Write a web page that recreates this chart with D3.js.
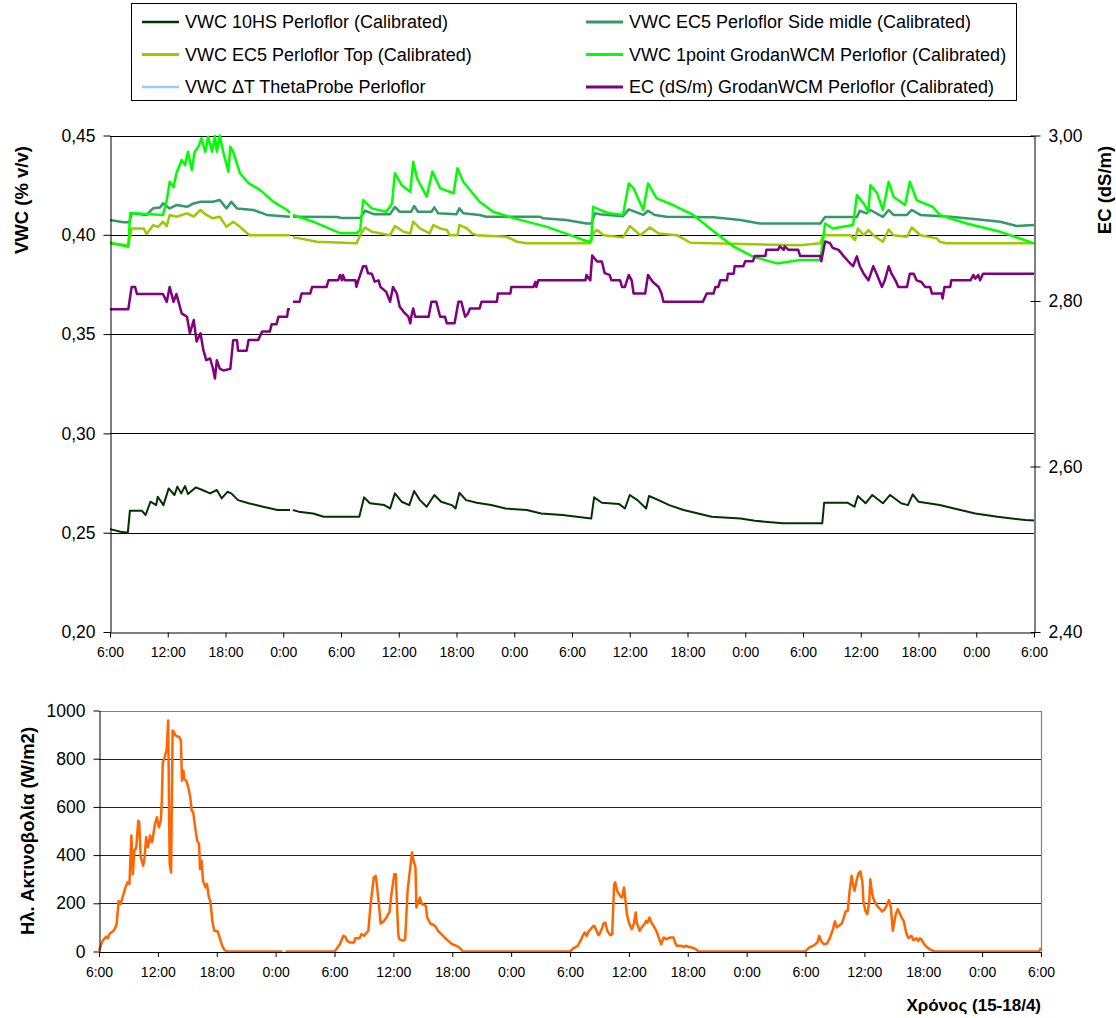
<!DOCTYPE html>
<html>
<head>
<meta charset="utf-8">
<script src="https://d3js.org/d3.v7.min.js"></script>
<style>
  body { margin: 0; background: #fff; }
  svg text { font-family: Arial, "Liberation Sans", sans-serif; fill: #000; }
</style>
</head>
<body>
<script>
"use strict";

// time is hours after 6:00 on 15/4 (0 .. 96), null marks the logger gap
var hs10 = [[0,0.2518],[1.1,0.2505],[1.85,0.25],[2.07,0.2611],[3.3,0.2611],[3.7,0.2589],[4.2,0.2656],[4.8,0.2639],[4.96,0.2681],[5.55,0.2639],
  [6.1,0.2723],[6.7,0.269],[7.0,0.2732],[7.4,0.2698],[7.8,0.2735],[8.1,0.2695],[8.9,0.2728],[9.6,0.2715],[10.4,0.2698],[11.1,0.2715],
  [11.6,0.2673],[12.2,0.2706],[12.6,0.2698],[13.3,0.2664],[14.4,0.2648],[15.9,0.2631],[17.4,0.2614],[18.7,0.2614],[18.8,null],[19.0,0.2614],
  [19.6,0.2606],[21.1,0.2597],[22.2,0.258],[25.9,0.258],[26.4,0.2678],[27.0,0.2648],[28.5,0.2639],[29.1,0.2622],[29.6,0.2698],[30.3,0.2656],
  [31.1,0.2639],[31.6,0.271],[32.2,0.2664],[32.9,0.2631],[33.7,0.269],[34.4,0.2656],[35.5,0.2639],[35.9,0.2622],[36.3,0.2701],[37.0,0.2664],
  [38.1,0.2651],[39.6,0.2639],[41.1,0.2622],[43.3,0.2614],[44.8,0.2597],[47.0,0.2589],[50.0,0.2572],[50.3,0.2678],[51.1,0.2651],[52.9,0.2644],
  [53.5,0.2622],[54.0,0.269],[54.8,0.2664],[55.7,0.2622],[56.0,0.2685],[57.0,0.2664],[58.1,0.2639],[59.6,0.2614],[62.5,0.258],[65.5,0.2572],
  [67.0,0.256],[69.9,0.2547],[74.0,0.2547],[74.2,0.2651],[76.6,0.2651],[77.35,0.2631],[77.7,0.2685],[78.5,0.2648],[79.2,0.269],[80.3,0.2648],
  [81.05,0.269],[82.2,0.2648],[82.9,0.2639],[83.4,0.2693],[84.0,0.2656],[86.2,0.2639],[87.7,0.2622],[89.9,0.2597],[92.2,0.258],[95.1,0.2564],[96,0.2561]];

var ec5Side = [[0,0.4074],[1.4,0.4063],[2.0,0.4063],[2.25,0.4108],[3.8,0.41],[4.5,0.4134],[5.2,0.4138],[5.5,0.4158],[6.2,0.4133],[6.9,0.415],
  [8.0,0.4141],[8.7,0.4158],[9.4,0.4166],[10.7,0.4166],[11.4,0.4175],[12.1,0.4133],[12.6,0.4166],[13.2,0.4133],[14.9,0.4125],[16.3,0.41],
  [18.7,0.4091],[18.8,null],[19.0,0.4091],[23.6,0.409],[24.1,0.4084],[26.0,0.4084],[26.5,0.4121],[27.4,0.4104],[29.1,0.4104],[29.6,0.414],
  [30.1,0.4116],[31.3,0.4116],[31.6,0.4145],[32.0,0.4116],[33.4,0.4116],[33.7,0.4138],[34.1,0.4108],[36.0,0.4104],[36.3,0.4133],[36.7,0.4108],
  [38.4,0.41],[39.1,0.4091],[44.7,0.4091],[45.0,0.4083],[47.4,0.4074],[49.5,0.4057],[50.0,0.4057],[50.4,0.4108],[50.9,0.4104],[53.3,0.4094],
  [53.9,0.4128],[55.4,0.41],[55.9,0.4121],[56.6,0.41],[57.8,0.4091],[62.7,0.4088],[65.5,0.4074],[67.5,0.4057],[73.8,0.4057],[74.3,0.409],
  [77.6,0.409],[77.9,0.4121],[78.6,0.4108],[79.0,0.4125],[80.3,0.409],[80.9,0.4125],[81.4,0.41],[82.8,0.41],[83.3,0.4125],[84.2,0.41],
  [87.3,0.4091],[90.0,0.4078],[92.5,0.4066],[94.2,0.4044],[96,0.4049]];

var ec5Top = [[0,0.3957],[1.9,0.3947],[2.25,0.4032],[3.5,0.4032],[3.8,0.4004],[4.5,0.4049],[5.0,0.404],[5.5,0.4066],[5.9,0.4044],[6.2,0.41],
  [6.9,0.4091],[8.0,0.4108],[8.7,0.4091],[9.4,0.4125],[10.0,0.41],[10.7,0.4083],[11.4,0.4091],[12.1,0.404],[12.8,0.4066],[13.5,0.404],
  [14.5,0.3998],[18.7,0.3998],[18.8,null],[19.0,0.3987],[19.7,0.3982],[21.5,0.3965],[25.6,0.3957],[26.1,0.4007],[26.5,0.4037],[27.2,0.4015],
  [29.1,0.3998],[29.6,0.4044],[30.5,0.4015],[31.2,0.4007],[31.5,0.4066],[32.2,0.4032],[33.2,0.4007],[33.6,0.4049],[34.3,0.4032],[35.0,0.4024],
  [35.3,0.3998],[36.1,0.3998],[36.3,0.4049],[37.1,0.4032],[37.6,0.4007],[38.1,0.3998],[41.2,0.399],[42.3,0.3965],[43.3,0.3957],[49.9,0.3957],
  [50.2,0.4007],[50.6,0.4024],[51.3,0.3998],[53.3,0.3987],[54.0,0.4044],[55.1,0.3998],[56.1,0.4037],[57.0,0.4007],[58.9,0.3998],[60.3,0.396],
  [71.7,0.3947],[73.8,0.3957],[74.1,0.3998],[76.9,0.3998],[77.4,0.3973],[77.7,0.4032],[78.3,0.3998],[78.8,0.4024],[79.3,0.3998],[80.3,0.3965],
  [80.9,0.4027],[81.4,0.3998],[82.8,0.399],[83.3,0.4037],[84.2,0.3998],[85.9,0.3982],[86.2,0.3965],[86.9,0.3957],[96,0.3957]];

var grodan1pt = [[0,0.396],[1.9,0.394],[2.1,0.411],[5.5,0.41],[5.9,0.4175],[6.2,0.4267],[6.6,0.424],[6.9,0.431],[7.45,0.4377],[7.8,0.4351],
  [8.1,0.4418],[8.5,0.4326],[8.8,0.4418],[9.2,0.4444],[9.5,0.4486],[9.9,0.4418],[10.2,0.4494],[10.6,0.4418],[10.9,0.4497],[11.1,0.4418],
  [11.4,0.45],[11.8,0.441],[12.3,0.4318],[12.5,0.4444],[12.8,0.4418],[13.5,0.431],[14.4,0.426],[15.6,0.4225],[17.0,0.4166],[18.4,0.4125],
  [18.7,0.411],[18.8,null],[19.0,0.41],[21.1,0.4066],[23.9,0.4008],[25.6,0.4008],[26.0,0.4024],[26.3,0.4175],[27.2,0.4133],[28.7,0.4116],
  [29.3,0.4158],[29.6,0.431],[30.3,0.425],[31.2,0.4217],[31.5,0.4368],[31.9,0.4284],[32.9,0.4192],[33.5,0.4318],[34.3,0.4234],[35.7,0.4209],
  [36.1,0.4335],[36.7,0.4267],[38.4,0.4166],[39.8,0.4116],[41.9,0.4084],[45.4,0.404],[47.8,0.3998],[49.7,0.3965],[50.0,0.397],[50.2,0.4141],
  [50.9,0.4125],[51.9,0.4108],[53.3,0.41],[53.9,0.4259],[54.4,0.4234],[55.4,0.4125],[55.9,0.4259],[56.8,0.4183],[58.5,0.415],[60.6,0.41],
  [63.0,0.4007],[64.8,0.394],[66.8,0.389],[69.3,0.3856],[71.7,0.3873],[73.8,0.3873],[74.3,0.4057],[75.1,0.4032],[77.2,0.4049],[77.6,0.42],
  [78.3,0.4158],[78.8,0.4116],[79.0,0.425],[79.7,0.4209],[80.3,0.4125],[80.9,0.4267],[81.4,0.4192],[82.6,0.415],[83.1,0.4267],[83.8,0.4175],
  [85.5,0.414],[86.2,0.41],[89.0,0.4057],[92.5,0.4015],[96,0.3957]];

// no readings were logged for the ThetaProbe, it only shows in the legend
var thetaProbe = [];

// EC on the right axis, dS/m
var ecGrodan = [[0,2.79],[1.9,2.79],[2.25,2.817],[2.6,2.817],[2.8,2.8085],[5.5,2.8085],[5.9,2.799],[6.2,2.817],[6.6,2.799],[6.9,2.8085],
  [7.45,2.785],[8.0,2.781],[8.3,2.761],[8.7,2.777],[9.0,2.751],[9.4,2.761],[9.7,2.7406],[10.0,2.7285],[10.4,2.7305],[10.7,2.7184],
  [10.9,2.7063],[11.1,2.7285],[11.4,2.7184],[11.8,2.716],[12.5,2.718],[12.8,2.7527],[13.2,2.7527],[13.3,2.74],[14.2,2.74],[14.4,2.753],
  [15.4,2.753],[15.8,2.763],[16.6,2.763],[16.8,2.772],[17.3,2.772],[17.5,2.781],[18.4,2.781],[18.5,2.79],[18.7,2.79],[18.8,null],
  [19.0,2.799],[19.7,2.799],[19.9,2.809],[20.8,2.809],[21.0,2.817],[22.5,2.817],[22.7,2.825],[23.7,2.825],[23.9,2.8315],[24.1,2.825],
  [24.2,2.8315],[24.4,2.825],[25.5,2.825],[25.6,2.817],[25.8,2.825],[26.3,2.842],[26.6,2.842],[26.8,2.8336],[27.2,2.833],[27.5,2.8234],
  [27.9,2.825],[28.1,2.817],[28.7,2.811],[29.1,2.799],[29.4,2.817],[29.8,2.809],[30.1,2.793],[30.5,2.787],[31.0,2.781],[31.2,2.773],
  [31.3,2.781],[31.5,2.791],[31.7,2.781],[33.1,2.781],[33.4,2.799],[33.9,2.799],[34.3,2.781],[34.8,2.781],[35.0,2.773],[35.8,2.773],
  [36.2,2.799],[36.5,2.799],[36.9,2.781],[37.2,2.785],[37.4,2.791],[38.4,2.791],[38.6,2.799],[40.2,2.799],[40.3,2.809],[41.6,2.809],
  [41.7,2.817],[44.0,2.817],[44.2,2.823],[44.3,2.817],[44.5,2.825],[49.4,2.825],[49.5,2.8315],[49.9,2.825],[50.1,2.855],[50.6,2.8477],
  [51.1,2.8477],[51.4,2.8336],[51.9,2.8315],[52.1,2.825],[53.0,2.825],[53.2,2.817],[53.5,2.817],[53.9,2.8315],[54.2,2.825],[54.4,2.809],
  [55.6,2.809],[55.9,2.8315],[56.4,2.823],[57.0,2.817],[57.3,2.809],[57.5,2.799],[61.6,2.799],[62.0,2.809],[62.7,2.809],[62.9,2.817],
  [63.2,2.817],[63.4,2.825],[64.1,2.825],[64.2,2.833],[64.8,2.833],[64.9,2.842],[65.8,2.842],[66.0,2.848],[66.8,2.848],[67.0,2.8545],
  [68.1,2.8545],[68.2,2.8618],[69.4,2.8618],[69.6,2.866],[70.0,2.8618],[70.1,2.866],[70.5,2.8618],[71.5,2.8618],[71.7,2.8545],[73.8,2.8545],
  [73.9,2.848],[74.3,2.872],[74.8,2.87],[75.1,2.864],[75.7,2.8618],[76.2,2.8545],[76.7,2.848],[77.2,2.842],[77.6,2.854],[77.9,2.842],
  [78.3,2.833],[78.8,2.825],[79.0,2.8315],[79.3,2.842],[79.7,2.8315],[80.2,2.817],[80.5,2.825],[80.9,2.842],[81.2,2.833],[81.6,2.825],
  [81.9,2.817],[82.8,2.817],[83.1,2.833],[83.5,2.833],[83.8,2.825],[84.3,2.823],[84.7,2.817],[85.2,2.817],[85.4,2.809],[86.4,2.809],
  [86.5,2.803],[86.7,2.817],[87.3,2.817],[87.4,2.825],[89.4,2.825],[89.7,2.8315],[89.9,2.827],[90.2,2.8315],[90.4,2.825],[90.7,2.833],[96,2.833]];

// solar radiation, W/m2
var radiation = [[0,3],[0.36,44],[0.73,62],[0.9,55],[1.1,75],[1.45,85],[1.6,93],[1.8,114],[2.0,210],[2.2,197],[2.35,217],[2.7,266],[2.9,287],
  [3.1,280],[3.3,481],[3.45,321],[3.6,418],[3.8,432],[4.0,543],[4.1,536],[4.25,391],[4.5,356],[4.65,391],[4.8,474],[5.0,432],[5.2,481],
  [5.4,453],[5.5,474],[5.7,529],[5.9,557],[6.1,515],[6.3,543],[6.4,626],[6.5,785],[6.7,806],[6.9,840],[7.05,958],[7.1,765],[7.2,363],
  [7.35,328],[7.5,917],[7.65,910],[7.8,896],[8.2,889],[8.35,875],[8.45,709],[8.6,751],[8.7,716],[8.9,709],[9.1,681],[9.3,640],[9.45,584],
  [9.6,577],[9.8,515],[10.0,460],[10.2,446],[10.3,342],[10.45,377],[10.6,294],[10.85,266],[11.0,280],[11.2,224],[11.35,210],[11.55,127],
  [11.75,86],[12.1,83],[12.4,44],[12.55,24],[12.8,6],[13.1,0],[18.7,0],[18.8,null],[19.0,0],[24.0,0],
  [24.2,10],[24.55,30],[24.9,65],[25.1,61],[25.3,44],[25.6,37],[26.0,37],[26.1,55],[26.55,55],[26.75,72],[27.0,65],[27.3,79],[27.45,86],
  [27.65,183],[27.8,238],[28.0,307],[28.2,314],[28.35,266],[28.55,183],[28.7,116],[29.0,125],[29.3,141],[29.45,155],[29.6,162],[29.8,238],
  [30.1,321],[30.25,321],[30.35,210],[30.5,72],[30.6,51],[31.0,44],[31.2,51],[31.45,252],[31.6,307],[31.9,411],[32.05,377],[32.25,350],
  [32.35,183],[32.55,204],[32.7,224],[32.9,197],[33.1,194],[33.3,190],[33.45,141],[33.8,114],[34.1,111],[34.35,100],[34.55,86],[34.9,72],
  [35.3,55],[35.6,44],[36.0,30],[36.4,24],[36.7,17],[37.1,0],[48,0],
  [48.3,12],[48.8,24],[49.1,47],[49.3,65],[49.5,79],[49.7,65],[49.9,84],[50.1,93],[50.4,107],[50.5,105],[50.7,86],[50.9,68],[51.0,72],
  [51.3,100],[51.4,116],[51.6,120],[51.8,86],[52.1,68],[52.3,72],[52.5,280],[52.6,287],[52.8,252],[53.1,231],[53.3,224],[53.5,266],
  [53.6,231],[53.8,155],[54.0,120],[54.2,100],[54.3,93],[54.5,114],[54.7,162],[54.8,120],[55.1,86],[55.3,100],[55.6,114],[55.75,127],
  [55.9,120],[56.1,141],[56.3,120],[56.5,107],[56.8,86],[57.1,51],[57.3,30],[57.55,58],[57.8,51],[58.2,58],[58.55,58],[58.75,33],[58.9,24],
  [59.3,24],[59.6,19],[59.8,24],[60.1,19],[60.4,17],[60.8,10],[61.1,0],[72,0],
  [72.1,6],[72.4,17],[72.8,24],[73.2,37],[73.4,65],[73.6,42],[73.9,30],[74.2,33],[74.5,58],[74.8,93],[75.0,125],[75.2,100],[75.4,107],
  [75.7,116],[75.9,141],[76.1,166],[76.3,169],[76.5,252],[76.7,314],[76.8,287],[77.0,252],[77.2,294],[77.4,324],[77.6,332],[77.8,287],
  [77.9,210],[78.1,169],[78.3,155],[78.5,210],[78.6,300],[78.8,238],[79.0,210],[79.3,190],[79.6,176],[79.8,166],[80.1,176],[80.5,213],
  [80.7,183],[80.9,86],[81.2,155],[81.4,176],[81.8,141],[82.0,127],[82.3,72],[82.5,55],[82.8,65],[83.0,47],[83.3,55],[83.5,44],[83.65,55],
  [83.8,51],[84.1,30],[84.4,17],[84.8,6],[85.2,0],[95.8,0],[96,15]];

var timeTicks = [0, 6, 12, 18, 24, 30, 36, 42, 48, 54, 60, 66, 72, 78, 84, 90, 96];
var timeLabels = ["6:00", "12:00", "18:00", "0:00", "6:00", "12:00", "18:00", "0:00", "6:00",
  "12:00", "18:00", "0:00", "6:00", "12:00", "18:00", "0:00", "6:00"];
var vwcTicks = [0.20, 0.25, 0.30, 0.35, 0.40, 0.45];
var ecTicks = [2.40, 2.60, 2.80, 3.00];
var radTicks = [0, 200, 400, 600, 800, 1000];

var legendNames = ["VWC 10HS Perloflor (Calibrated)", "VWC EC5 Perloflor Side midle (Calibrated)",
  "VWC EC5 Perloflor Top (Calibrated)", "VWC 1point GrodanWCM Perloflor (Calibrated)",
  "VWC \u0394T ThetaProbe Perloflor", "EC (dS/m) GrodanWCM Perloflor (Calibrated)"];

function init() {
  var w = 1116;
  var h = 1018;

  var svg = d3.select("body")
    .append("svg")
    .attr("width", w)
    .attr("height", h);

  var comma = d3.formatLocale({ decimal: ",", thousands: ".", grouping: [3], currency: ["", ""] }).format(".2f");

  // ---------- upper chart ----------
  var p = { left: 110, right: 1034, top: 135.5, bottom: 632 };

  var xScale = d3.scaleLinear().domain([0, 96]).range([p.left, p.right]);
  var yVwc = d3.scaleLinear().domain([0.20, 0.45]).range([p.bottom, p.top]);
  var yEc = d3.scaleLinear().domain([2.40, 3.00]).range([p.bottom, p.top]);

  svg.append("g")
    .selectAll("line")
    .data(vwcTicks.slice(1))
    .enter()
    .append("line")
    .attr("x1", p.left)
    .attr("x2", p.right)
    .attr("y1", function (d) { return Math.round(yVwc(d)) + 0.5; })
    .attr("y2", function (d) { return Math.round(yVwc(d)) + 0.5; })
    .attr("stroke", "#000")
    .attr("stroke-width", 1);

  var series = [
    { name: legendNames[0], data: hs10, color: "#003300", width: 2, scale: yVwc },
    { name: legendNames[1], data: ec5Side, color: "#339966", width: 2.5, scale: yVwc },
    { name: legendNames[2], data: ec5Top, color: "#99cc00", width: 2.5, scale: yVwc },
    { name: legendNames[3], data: grodan1pt, color: "#00ff00", width: 2.5, scale: yVwc },
    { name: legendNames[4], data: thetaProbe, color: "#99ccff", width: 2, scale: yVwc },
    { name: legendNames[5], data: ecGrodan, color: "#800080", width: 2.5, scale: yEc }
  ];

  series.forEach(function (s) {
    var line = d3.line()
      .defined(function (d) { return d[1] !== null; })
      .x(function (d) { return xScale(d[0]); })
      .y(function (d) { return s.scale(d[1]); });
    svg.append("path")
      .datum(s.data)
      .attr("d", line)
      .attr("fill", "none")
      .attr("stroke", s.color)
      .attr("stroke-width", s.width)
      .attr("stroke-linejoin", "round");
  });

  var leftAxis = svg.append("g")
    .attr("transform", "translate(" + (p.left + 0.5) + ",0)")
    .call(d3.axisLeft(yVwc).tickValues(vwcTicks).tickFormat(comma).tickSize(7).tickSizeOuter(0).tickPadding(8));

  var rightAxis = svg.append("g")
    .attr("transform", "translate(" + (p.right + 0.5) + ",0)")
    .call(d3.axisRight(yEc).tickValues(ecTicks).tickFormat(comma).tickSize(6).tickSizeOuter(0).tickPadding(8));
  rightAxis.selectAll(".tick line").attr("x1", -4);

  var bottomAxis = svg.append("g")
    .attr("transform", "translate(0," + (p.bottom + 0.5) + ")")
    .call(d3.axisBottom(xScale).tickValues(timeTicks)
      .tickFormat(function (d, i) { return timeLabels[i]; })
      .tickSize(5).tickSizeOuter(0).tickPadding(10));

  [leftAxis, rightAxis].forEach(function (g) {
    g.selectAll("text").style("font-size", "17.5px");
  });
  bottomAxis.selectAll("text").style("font-size", "14px");
  [leftAxis, rightAxis, bottomAxis].forEach(function (g) {
    g.select(".domain").attr("stroke", "#000");
    g.selectAll(".tick line").attr("stroke", "#000");
  });

  svg.append("text")
    .attr("transform", "translate(28,200) rotate(-90)")
    .attr("text-anchor", "middle")
    .style("font-size", "18.5px")
    .style("font-weight", "bold")
    .text("VWC (% v/v)");

  svg.append("text")
    .attr("transform", "translate(1111,190) rotate(-90)")
    .attr("text-anchor", "middle")
    .style("font-size", "18.5px")
    .style("font-weight", "bold")
    .text("EC (dS/m)");

  // legend
  var lg = { x: 131.5, y: 3.5, w: 885, h: 97 };
  svg.append("rect")
    .attr("x", lg.x)
    .attr("y", lg.y)
    .attr("width", lg.w)
    .attr("height", lg.h)
    .attr("fill", "#fff")
    .attr("stroke", "#000")
    .attr("stroke-width", 1);

  var items = svg.append("g")
    .selectAll("g")
    .data(series)
    .enter()
    .append("g")
    .attr("transform", function (d, i) {
      var col = i % 2;
      var row = Math.floor(i / 2);
      return "translate(" + (col === 0 ? 142 : 586) + "," + (22 + row * 32.5) + ")";
    });
  items.append("line")
    .attr("x1", 0)
    .attr("x2", 37)
    .attr("stroke", function (d) { return d.color; })
    .attr("stroke-width", function (d) { return d.width + 0.5; });
  items.append("text")
    .attr("x", 43)
    .attr("dy", "0.35em")
    .style("font-size", "18px")
    .text(function (d) { return d.name; });

  // ---------- lower chart ----------
  var q = { left: 99, right: 1041, top: 710.5, bottom: 951.5 };

  var xRad = d3.scaleLinear().domain([0, 96]).range([q.left, q.right]);
  var yRad = d3.scaleLinear().domain([0, 1000]).range([q.bottom, q.top]);

  svg.append("g")
    .selectAll("line")
    .data(radTicks.slice(1, 5))
    .enter()
    .append("line")
    .attr("x1", q.left)
    .attr("x2", q.right)
    .attr("y1", function (d) { return Math.round(yRad(d)) + 0.5; })
    .attr("y2", function (d) { return Math.round(yRad(d)) + 0.5; })
    .attr("stroke", "#222")
    .attr("stroke-width", 1.2);

  svg.append("path")
    .attr("d", "M" + q.left + "," + (Math.round(q.top) + 0.5) + "H" + (q.right + 0.5) + "V" + q.bottom)
    .attr("fill", "none")
    .attr("stroke", "#808080")
    .attr("stroke-width", 1.2);

  var radLine = d3.line()
    .defined(function (d) { return d[1] !== null; })
    .x(function (d) { return xRad(d[0]); })
    .y(function (d) { return yRad(d[1]); });

  svg.append("path")
    .datum(radiation)
    .attr("d", radLine)
    .attr("fill", "none")
    .attr("stroke", "#ff6600")
    .attr("stroke-width", 2.5)
    .attr("stroke-linejoin", "round");

  var radLeft = svg.append("g")
    .attr("transform", "translate(" + (q.left + 0.5) + ",0)")
    .call(d3.axisLeft(yRad).tickValues(radTicks).tickFormat(d3.format("d"))
      .tickSize(6).tickSizeOuter(0).tickPadding(8));

  var radBottom = svg.append("g")
    .attr("transform", "translate(0," + (q.bottom + 0.5) + ")")
    .call(d3.axisBottom(xRad).tickValues(timeTicks)
      .tickFormat(function (d, i) { return timeLabels[i]; })
      .tickSize(5).tickSizeOuter(0).tickPadding(10));

  radLeft.selectAll("text").style("font-size", "17.5px");
  radBottom.selectAll("text").style("font-size", "14px");
  [radLeft, radBottom].forEach(function (g) {
    g.select(".domain").attr("stroke", "#000");
    g.selectAll(".tick line").attr("stroke", "#000");
  });

  svg.append("text")
    .attr("transform", "translate(34,831) rotate(-90)")
    .attr("text-anchor", "middle")
    .style("font-size", "18.5px")
    .style("font-weight", "bold")
    .text("Ηλ. Ακτινοβολία (W/m2)");

  svg.append("text")
    .attr("x", 1041)
    .attr("y", 1011)
    .attr("text-anchor", "end")
    .style("font-size", "17px")
    .style("font-weight", "bold")
    .text("Χρόνος (15-18/4)");
}

window.onload = init;
</script>
</body>
</html>
